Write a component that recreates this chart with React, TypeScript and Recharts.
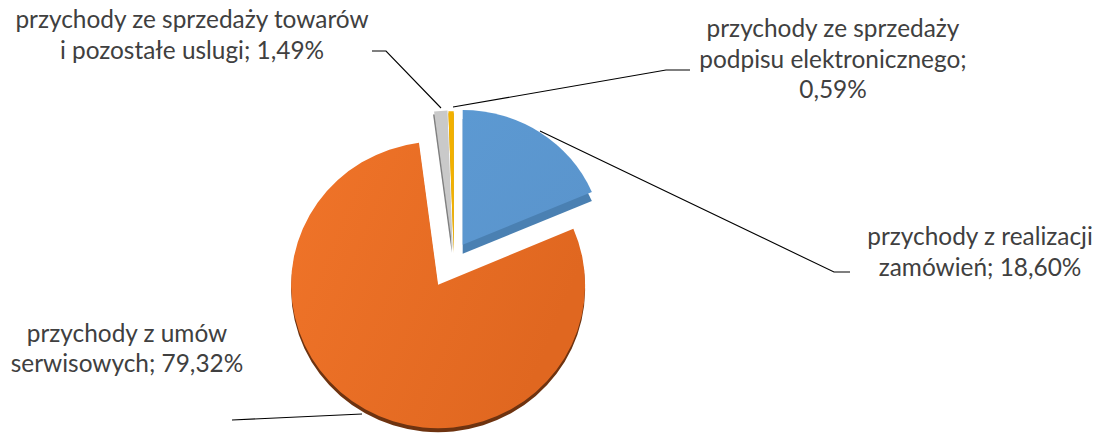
import { PieChart, Pie, Sector } from 'recharts';

const categories = [
  ['przychody z realizacji', 'zamówień; 18,60%'],
  ['przychody z umów', 'serwisowych; 79,32%'],
  ['przychody ze sprzedaży towarów', 'i pozostałe uslugi; 1,49%'],
  ['przychody ze sprzedaży', 'podpisu elektronicznego;', '0,59%'],
];
const shares = [18.6, 79.32, 1.49, 0.59];

const fills = ['url(#blueFace)', 'url(#orangeFace)', '#c9c9c9', '#f2b100'];
const sideFills = ['#4a80b2', '#6e3310', '#7f7f7f', '#c89400'];
const explode = [23, 24, 14, 13];
const shiftX = [0, 0, 4, 4];
const sizeScale = [0.955, 1, 0.98, 0.98];
const squash = [0.96, 0.975, 0.97, 0.97];
const depthX = [0, 0, -1, 0];
const depthY = [9, 4, 3, 2];

// label text: centre x, first baseline, line height
const labelX = [980, 127, 192, 833];
const labelY = [245, 342, 28, 37];
const lineGap = [31, 30, 31, 30.5];
const leaders = [
  '540,131 834,272 850,272',
  '232,420 362,414',
  '372,51 386,51 441,108',
  '690,70 666,70 453,107',
];

const data = shares.map((value, i) => ({ name: categories[i].join(' '), value, fill: fills[i] }));

const RAD = Math.PI / 180;

const ExplodedSlice = (props: any) => {
  const { cx, cy, innerRadius, outerRadius, startAngle, endAngle, fill, index } = props;
  const mid = ((startAngle + endAngle) / 2) * RAD;
  const dx = explode[index] * Math.cos(mid) + shiftX[index];
  const dy = -explode[index] * Math.sin(mid);
  const place = (ox: number, oy: number) =>
    `translate(${cx + dx + ox} ${cy + dy + oy}) scale(1 ${squash[index]}) translate(${-cx} ${-cy})`;
  const base = {
    cx,
    cy,
    innerRadius,
    outerRadius: outerRadius * sizeScale[index],
    startAngle,
    endAngle,
    stroke: 'none',
  };
  return (
    <g>
      <g transform={place(depthX[index], depthY[index])}>
        <Sector {...base} fill={sideFills[index]} />
      </g>
      <g transform={place(0, 0)}>
        <Sector {...base} fill={fill} />
      </g>
    </g>
  );
};

const sliceLabel = ({ index }: any) => (
  <text fill='#404040' fontSize={24.4} fontFamily='Lato' textAnchor='middle'>
    {categories[index].map((line, i) => (
      <tspan key={line} x={labelX[index]} y={labelY[index] + i * lineGap[index]}>
        {line}
      </tspan>
    ))}
  </text>
);

const leaderLine = ({ index }: any) => (
  <polyline points={leaders[index]} fill='none' stroke='#000' strokeWidth={1.1} />
);

const App = () => {
  return (
    <div style={{ position: 'absolute', left: 0, top: 0, width: 1097, height: 433, background: '#fff' }}>
      <PieChart width={1097} height={433} margin={{ top: 0, right: 0, bottom: 0, left: 0 }}>
        <defs>
          <linearGradient id='orangeFace' x1='0' y1='0' x2='1' y2='0.4'>
            <stop offset='0%' stopColor='#f07429' />
            <stop offset='100%' stopColor='#e06720' />
          </linearGradient>
          <linearGradient id='blueFace' x1='0' y1='0' x2='1' y2='1'>
            <stop offset='0%' stopColor='#5c99d2' />
            <stop offset='100%' stopColor='#5a94cc' />
          </linearGradient>
        </defs>
        <Pie
          data={data}
          dataKey='value'
          cx={450}
          cy={264}
          innerRadius={0}
          outerRadius={147}
          startAngle={90}
          endAngle={-270}
          stroke='none'
          shape={ExplodedSlice}
          label={sliceLabel}
          labelLine={leaderLine}
          isAnimationActive={false}
        />
      </PieChart>
    </div>
  );
};

export default App;
